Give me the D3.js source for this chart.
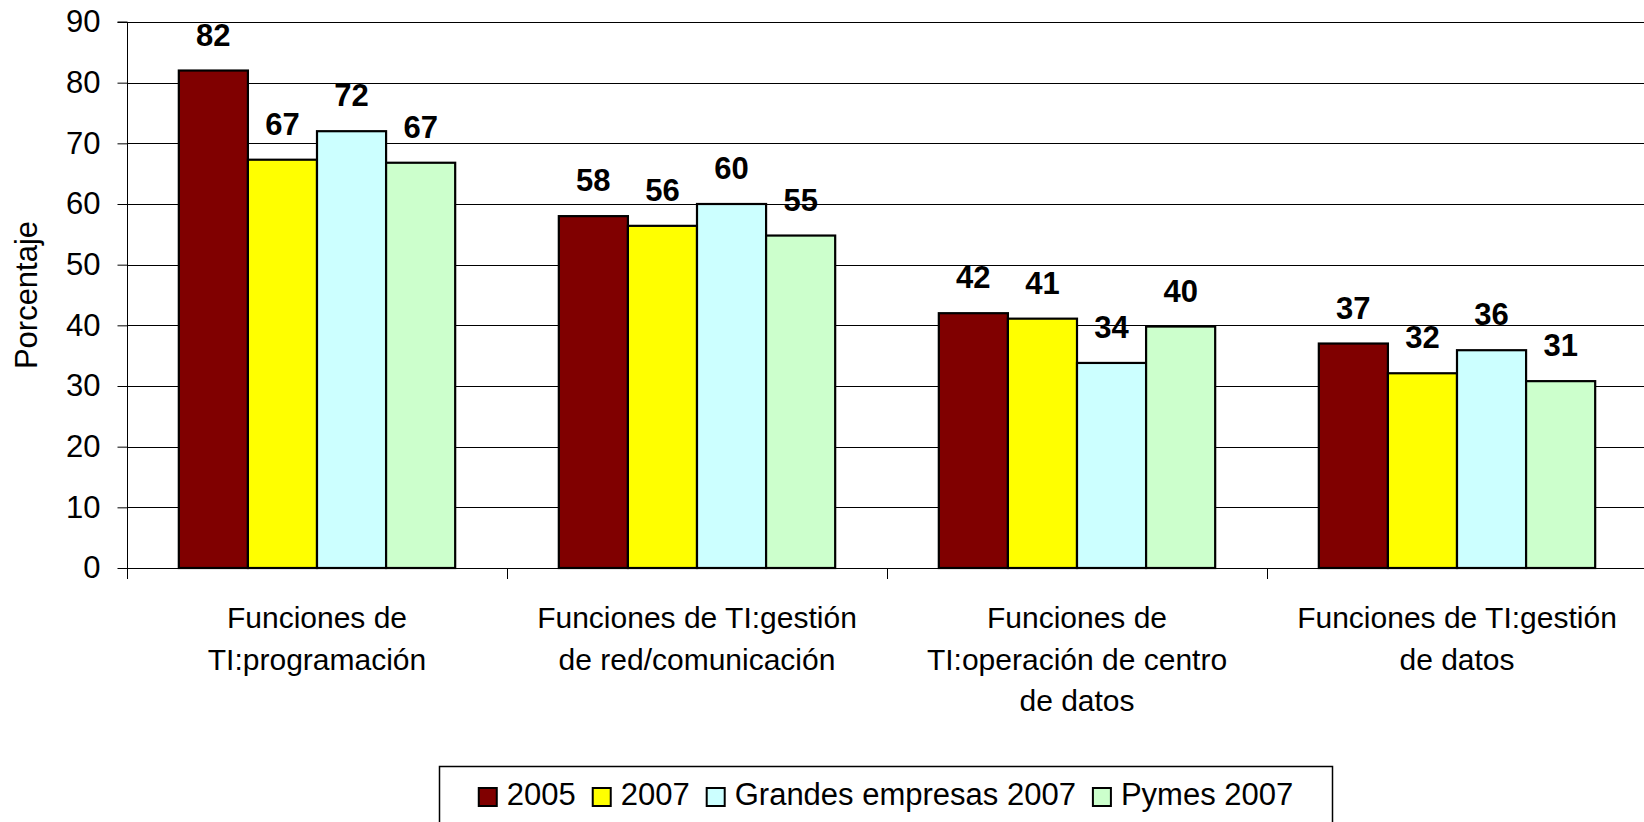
<!DOCTYPE html>
<html>
<head>
<meta charset="utf-8">
<script src="https://cdn.jsdelivr.net/npm/d3@7"></script>
<style>
  body { margin: 0; background: #fff; }
  svg { display: block; font-family: "Liberation Sans", Arial, sans-serif; }
</style>
</head>
<body>
<script>
var categories = ["prog", "red", "centro", "datos"];
var catLabels = [
  ["Funciones de", "TI:programación"],
  ["Funciones de TI:gestión", "de red/comunicación"],
  ["Funciones de", "TI:operación de centro", "de datos"],
  ["Funciones de TI:gestión", "de datos"]
];
var series = ["2005", "2007", "Grandes empresas 2007", "Pymes 2007"];
var colors = ["#800000", "#ffff00", "#ccffff", "#ccffcc"];
var v2005 = [82, 58, 42, 37];
var v2007 = [67.3, 56.4, 41.1, 32.1];
var vGrandes = [72, 60, 33.8, 35.9];
var vPymes = [66.8, 54.8, 39.8, 30.8];
var yTicks = [0, 10, 20, 30, 40, 50, 60, 70, 80, 90];

var values = [v2005, v2007, vGrandes, vPymes];

var width = 1644, height = 822;
var plotLeft = 127, plotTop = 22, plotBottom = 568;

var svg = d3.select("body").append("svg")
    .attr("width", width)
    .attr("height", height);

var x0 = d3.scaleBand()
    .domain(categories)
    .range([plotLeft, plotLeft + 380 * 4])
    .padding(0);

var x1 = d3.scaleBand()
    .domain(series)
    .range([0, x0.bandwidth()])
    .paddingInner(0)
    .paddingOuter(0.75);

var y = d3.scaleLinear()
    .domain([0, 90])
    .range([plotBottom, plotTop]);

// gridlines
svg.append("g").selectAll("line")
  .data(yTicks.filter(function(d) { return d > 0; }))
  .enter().append("line")
    .attr("x1", plotLeft).attr("x2", width)
    .attr("y1", function(d) { return Math.round(y(d)) + 0.5; })
    .attr("y2", function(d) { return Math.round(y(d)) + 0.5; })
    .attr("stroke", "#000")
    .attr("stroke-width", 1);

// y axis
var yAxis = svg.append("g")
    .attr("transform", "translate(" + (plotLeft + 0.5) + ",0)")
    .call(d3.axisLeft(y).tickValues(yTicks).tickSize(10).tickPadding(17));
yAxis.select(".domain").attr("d", "M-10," + y(90) + "H0V" + (plotBottom + 10));
yAxis.selectAll("text")
    .attr("font-size", 31)
    .attr("font-family", "Liberation Sans, Arial, sans-serif")
    .attr("fill", "#000");
yAxis.selectAll("line").attr("stroke", "#000");

// y label
svg.append("text")
    .attr("transform", "translate(26," + ((plotTop + plotBottom) / 2) + ") rotate(-90)")
    .attr("text-anchor", "middle")
    .attr("dominant-baseline", "central")
    .attr("font-size", 31)
    .text("Porcentaje");

// bars
var groups = svg.append("g").selectAll("g")
  .data(categories)
  .enter().append("g")
    .attr("transform", function(d) { return "translate(" + x0(d) + ",0)"; });

groups.selectAll("rect")
  .data(function(d, i) { return series.map(function(s, j) { return {s: s, v: values[j][i], c: colors[j]}; }); })
  .enter().append("rect")
    .attr("x", function(d) { return x1(d.s); })
    .attr("y", function(d) { return y(d.v); })
    .attr("width", x1.bandwidth())
    .attr("height", function(d) { return plotBottom - y(d.v); })
    .attr("fill", function(d) { return d.c; })
    .attr("stroke", "#000")
    .attr("stroke-width", 2.2);

groups.selectAll("text.val")
  .data(function(d, i) { return series.map(function(s, j) { return {s: s, v: values[j][i]}; }); })
  .enter().append("text")
    .attr("class", "val")
    .attr("x", function(d) { return x1(d.s) + x1.bandwidth() / 2; })
    .attr("y", function(d) { return y(d.v) - 25; })
    .attr("text-anchor", "middle")
    .attr("font-size", 31)
    .attr("font-weight", "bold")
    .text(function(d) { return d3.format(".0f")(d.v); });

// x axis
svg.append("line")
    .attr("x1", plotLeft).attr("x2", width)
    .attr("y1", plotBottom + 0.5).attr("y2", plotBottom + 0.5)
    .attr("stroke", "#000");
svg.append("g").selectAll("line")
  .data(categories.concat(["end"]))
  .enter().append("line")
    .attr("x1", function(d) { return (d === "end" ? x0.range()[1] : x0(d)) + 0.5; })
    .attr("x2", function(d) { return (d === "end" ? x0.range()[1] : x0(d)) + 0.5; })
    .attr("y1", plotBottom).attr("y2", plotBottom + 11)
    .attr("stroke", "#000");

var xl = svg.append("g").selectAll("text")
  .data(categories)
  .enter().append("text")
    .attr("text-anchor", "middle")
    .attr("font-size", 30)
    .attr("y", 628);
xl.selectAll("tspan")
  .data(function(d, i) { return catLabels[i]; })
  .enter().append("tspan")
    .attr("x", function() { var c = d3.select(this.parentNode).datum(); return x0(c) + x0.bandwidth() / 2; })
    .attr("dy", function(d, i) { return i === 0 ? 0 : 41.7; })
    .text(function(d) { return d; });

// legend
var legend = svg.append("g");
legend.append("rect")
    .attr("x", 439.5).attr("y", 766.5)
    .attr("width", 893).attr("height", 60)
    .attr("fill", "#fff")
    .attr("stroke", "#000")
    .attr("stroke-width", 1.5);

var items = legend.selectAll("g.item")
  .data(series)
  .enter().append("g").attr("class", "item");
items.append("rect")
    .attr("width", 18).attr("height", 18)
    .attr("y", 788)
    .attr("fill", function(d, i) { return colors[i]; })
    .attr("stroke", "#000")
    .attr("stroke-width", 2);
items.append("text")
    .attr("y", 805)
    .attr("font-size", 31)
    .text(function(d) { return d; });

var widths = [];
items.select("text").each(function() { widths.push(this.getComputedTextLength()); });
var total = d3.sum(widths) + series.length * (18 + 10) + (series.length - 1) * 17;
var cx = 439.5 + (893 - total) / 2;
items.each(function(d, i) {
  var g = d3.select(this);
  g.select("rect").attr("x", cx);
  g.select("text").attr("x", cx + 28);
  cx += 28 + widths[i] + 17;
});
</script>
</body>
</html>
